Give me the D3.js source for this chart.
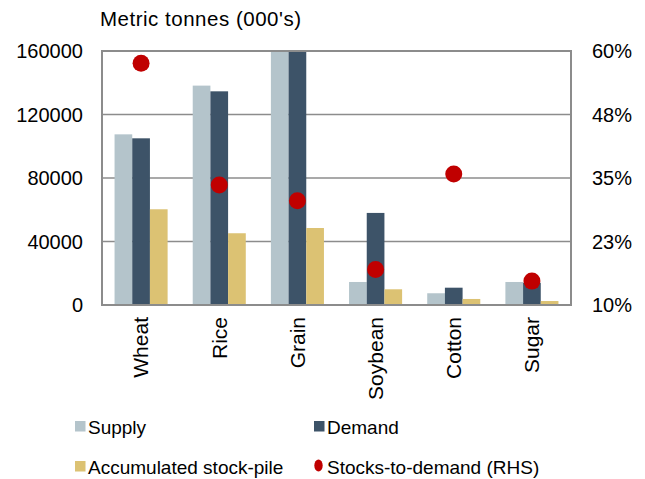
<!DOCTYPE html>
<html>
<head>
<meta charset="utf-8">
<script src="https://cdn.jsdelivr.net/npm/d3@7/dist/d3.min.js"></script>
<style>
  body { margin: 0; background: #fff; }
  svg text { font-family: "Liberation Sans", Arial, sans-serif; fill: #000; }
</style>
</head>
<body>
<svg id="chart" width="645" height="479"></svg>
<script>
// Commodity balances: supply, demand and stock-pile in metric tonnes (000's),
// plus stocks-to-demand ratio on the right-hand axis.
const categories = ["Wheat", "Rice", "Grain", "Soybean", "Cotton", "Sugar"];
const supply     = [107500, 138200, 160000, 14500, 7400, 14500];
const demand     = [105000, 134600, 160000, 58000, 10900, 14000];
const stockpile  = [60300, 45200, 48500, 9900, 3800, 2500];
const stocksToDemand = [0.576, 0.336, 0.305, 0.170, 0.358, 0.147];

const leftTicks = [0, 40000, 80000, 120000, 160000];
const leftTickLabels = ["0", "40000", "80000", "120000", "160000"];
const rightTicks = [0.10, 0.225, 0.35, 0.475, 0.60];
const rightTickLabels = ["10%", "23%", "35%", "48%", "60%"];

const seriesNames = ["Supply", "Demand", "Accumulated stock-pile"];
const seriesValues = [supply, demand, stockpile];
const seriesColors = ["#B4C4CB", "#3D5368", "#DCC273"];
const dotColor = "#C00000";

const svg = d3.select("#chart");
const plot = { left: 102, right: 571, top: 51, bottom: 305 };

const x0 = d3.scaleBand().domain(categories).range([plot.left, plot.right]).padding(0);
const x1 = d3.scaleBand().domain(seriesNames).range([0, x0.bandwidth()])
  .paddingInner(0).paddingOuter(0.71);
const yL = d3.scaleLinear().domain([0, 160000]).range([plot.bottom, plot.top]);
const yR = d3.scaleLinear().domain([0.10, 0.60]).range([plot.bottom, plot.top]);

// horizontal gridlines
svg.append("g").selectAll("line")
  .data(leftTicks.slice(1, -1))
  .join("line")
  .attr("x1", plot.left).attr("x2", plot.right)
  .attr("y1", d => yL(d)).attr("y2", d => yL(d))
  .attr("stroke", "#8C8C8C").attr("stroke-width", 1.5);

// bars
const groups = svg.append("g").selectAll("g")
  .data(categories)
  .join("g")
  .attr("transform", d => `translate(${x0(d)},0)`);

groups.selectAll("rect")
  .data((c, i) => seriesNames.map((s, k) => ({ s, k, v: seriesValues[k][i] })))
  .join("rect")
  .attr("x", d => x1(d.s))
  .attr("width", x1.bandwidth())
  .attr("y", d => yL(d.v))
  .attr("height", d => yL(0) - yL(d.v))
  .attr("fill", d => seriesColors[d.k]);

// frame
svg.append("rect")
  .attr("x", plot.left).attr("y", plot.top)
  .attr("width", plot.right - plot.left).attr("height", plot.bottom - plot.top)
  .attr("fill", "none").attr("stroke", "#8C8C8C").attr("stroke-width", 2);

// stocks-to-demand dots
svg.append("g").selectAll("circle")
  .data(categories)
  .join("circle")
  .attr("cx", d => x0(d) + x0.bandwidth() / 2)
  .attr("cy", (d, i) => yR(stocksToDemand[i]))
  .attr("r", 8.5)
  .attr("fill", dotColor);

// left axis labels
svg.append("g").selectAll("text")
  .data(leftTicks)
  .join("text")
  .attr("x", 83).attr("y", d => yL(d))
  .attr("dy", "0.35em")
  .attr("text-anchor", "end")
  .attr("font-size", 20)
  .text((d, i) => leftTickLabels[i]);

// right axis labels
svg.append("g").selectAll("text")
  .data(rightTicks)
  .join("text")
  .attr("x", 592).attr("y", d => yR(d))
  .attr("dy", "0.35em")
  .attr("text-anchor", "start")
  .attr("font-size", 20)
  .text((d, i) => rightTickLabels[i]);

// category labels (rotated)
svg.append("g").selectAll("text")
  .data(categories)
  .join("text")
  .attr("transform", d => `translate(${x0(d) + x0.bandwidth() / 2},317) rotate(-90)`)
  .attr("dy", "0.35em")
  .attr("text-anchor", "end")
  .attr("font-size", 21)
  .text(d => d);

// axis title
svg.append("text")
  .attr("x", 100).attr("y", 26)
  .attr("font-size", 20.5)
  .attr("textLength", 201)
  .attr("lengthAdjust", "spacing")
  .text("Metric tonnes (000's)");

// legend
const legend = svg.append("g");
const legendItems = [
  { name: "Supply", color: seriesColors[0], x: 75, y: 421, type: "rect" },
  { name: "Demand", color: seriesColors[1], x: 314, y: 421, type: "rect" },
  { name: "Accumulated stock-pile", color: seriesColors[2], x: 75, y: 461, type: "rect" },
  { name: "Stocks-to-demand (RHS)", color: dotColor, x: 314, y: 461, type: "dot" }
];
legendItems.forEach(it => {
  if (it.type === "rect") {
    legend.append("rect").attr("x", it.x).attr("y", it.y)
      .attr("width", 10.5).attr("height", 10.5).attr("fill", it.color);
  } else {
    legend.append("ellipse").attr("cx", it.x + 4.5).attr("cy", it.y + 4.5)
      .attr("rx", 4.2).attr("ry", 6).attr("fill", it.color);
  }
  legend.append("text")
    .attr("x", it.x + 13).attr("y", it.y + 12.5)
    .attr("font-size", 19)
    .text(it.name);
});
</script>
</body>
</html>
